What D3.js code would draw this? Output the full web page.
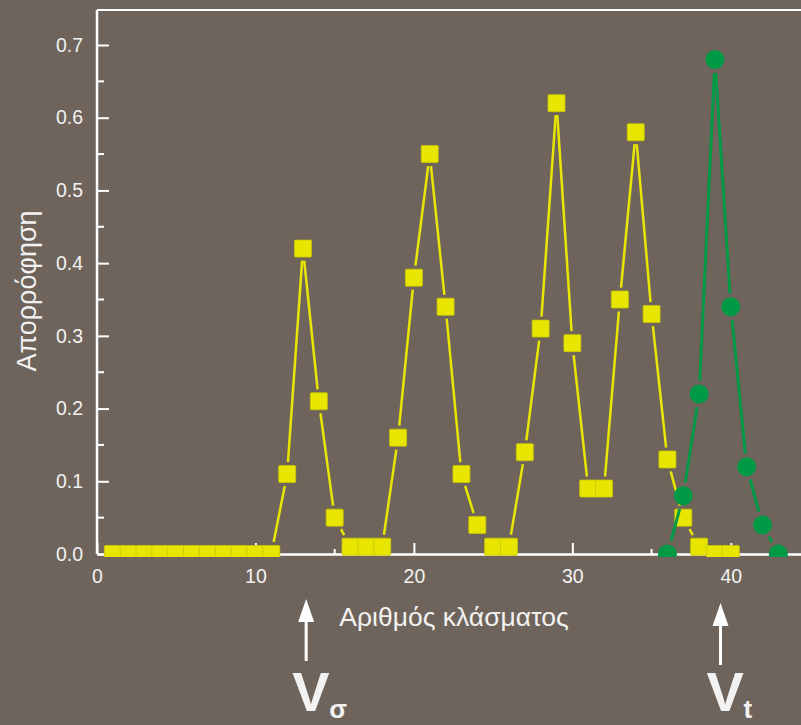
<!DOCTYPE html>
<html>
<head>
<meta charset="utf-8">
<script src="https://cdn.jsdelivr.net/npm/d3@7"></script>
<style>
  body { margin: 0; background: #6f645b; }
  svg { display: block; }
  text { font-family: "Liberation Sans", Arial, sans-serif; fill: #f2f2f2; }
</style>
</head>
<body>
<div id="chart-area"></div>
<script>
// fractions with absorbance, yellow series (squares)
var yellowX = [1, 2, 3, 4, 5, 6, 7, 8, 9, 10, 11, 12, 13, 14, 15, 16, 17, 18, 19, 20,
    21, 22, 23, 24, 25, 26, 27, 28, 29, 30, 31, 32, 33, 34, 35, 36, 37, 38, 39, 40];
var yellowY = [0, 0, 0, 0, 0, 0, 0, 0, 0, 0, 0, 0.11, 0.42, 0.21, 0.05, 0.01, 0.01, 0.01, 0.16, 0.38,
    0.55, 0.34, 0.11, 0.04, 0.01, 0.01, 0.14, 0.31, 0.62, 0.29, 0.09, 0.09, 0.35, 0.58, 0.33, 0.13, 0.05, 0.01, 0, 0];

// green series (circles)
var greenX = [36, 37, 38, 39, 40, 41, 42, 43];
var greenY = [0, 0.08, 0.22, 0.68, 0.34, 0.12, 0.04, 0];

var xTicks = [0, 10, 20, 30, 40];
var xMinor = [5, 15, 25, 35];
var yTicks = [0, 0.1, 0.2, 0.3, 0.4, 0.5, 0.6, 0.7];
var yMinor = [0.05, 0.15, 0.25, 0.35, 0.45, 0.55, 0.65];

var markers = [{ x: 13.2, label: 'σ' }, { x: 39.35, label: 't' }];

var W = 801, H = 725;
var svg = d3.select('#chart-area')
    .append('svg')
    .attr('width', W)
    .attr('height', H);

var x = d3.scaleLinear().domain([0, 44.43]).range([97, 801]);
var y = d3.scaleLinear().domain([0, 0.7]).range([554, 45]);
var yTop = 10;

// frame top line
svg.append('line')
    .attr('x1', 97).attr('x2', W)
    .attr('y1', yTop).attr('y2', yTop)
    .attr('stroke', '#fff').attr('stroke-width', 2);

// y axis
var yAxis = d3.axisLeft(y).tickValues(yTicks).tickFormat(d3.format('.1f'))
    .tickSize(-12).tickSizeOuter(0).tickPadding(14);
var gy = svg.append('g').attr('transform', 'translate(97,0)').call(yAxis);
gy.select('.domain').attr('d', 'M0,' + y(0) + 'V' + yTop);
gy.selectAll('.tick text').style('font-size', '19.5px');
gy.selectAll('.tick line').attr('stroke-width', 2);
gy.selectAll('.minor').data(yMinor).enter().append('line')
    .attr('x1', 0).attr('x2', 7)
    .attr('y1', d => y(d)).attr('y2', d => y(d))
    .attr('stroke', '#fff').attr('stroke-width', 2);

// x axis
var xAxis = d3.axisBottom(x).tickValues(xTicks)
    .tickSize(-11).tickSizeOuter(0).tickPadding(15);
var gx = svg.append('g').attr('transform', 'translate(0,' + y(0) + ')').call(xAxis);
gx.selectAll('.tick text').style('font-size', '19.5px');
gx.selectAll('.tick line').attr('stroke-width', 2);
gx.selectAll('.minor').data(xMinor).enter().append('line')
    .attr('x1', d => x(d)).attr('x2', d => x(d))
    .attr('y1', 0).attr('y2', -5)
    .attr('stroke', '#fff').attr('stroke-width', 2);
svg.selectAll('.domain').attr('stroke', '#fff').attr('stroke-width', 2.5);
svg.selectAll('.tick line').attr('stroke', '#fff');
svg.selectAll('.tick text').attr('fill', '#f2f2f2');

// clip just under the x axis
svg.append('clipPath').attr('id', 'plot')
    .append('rect').attr('x', 97).attr('y', 0).attr('width', W - 97).attr('height', y(0) + 3);

var plot = svg.append('g').attr('clip-path', 'url(#plot)');

// broken line segments between symbols
function segments(xs, ys, edge) {
    var out = [];
    for (var i = 0; i < xs.length - 1; i++) {
        var x1 = x(xs[i]), y1 = y(ys[i]), x2 = x(xs[i + 1]), y2 = y(ys[i + 1]);
        var dx = x2 - x1, dy = y2 - y1, d = Math.sqrt(dx * dx + dy * dy);
        var ux = dx / d, uy = dy / d;
        var g = edge(ux, uy);
        if (d > 2 * g + 2) {
            out.push([x1 + ux * g, y1 + uy * g, x2 - ux * g, y2 - uy * g]);
        }
    }
    return out;
}

var sq = 17;
var ySeg = segments(yellowX, yellowY, function (ux, uy) {
    return (sq / 2) / Math.max(Math.abs(ux), Math.abs(uy)) + 3.5;
});
plot.selectAll('.yseg').data(ySeg).enter().append('line')
    .attr('x1', d => d[0]).attr('y1', d => d[1])
    .attr('x2', d => d[2]).attr('y2', d => d[3])
    .attr('stroke', '#e8e600').attr('stroke-width', 2.5);

plot.selectAll('.ysq').data(yellowX).enter().append('rect')
    .attr('x', d => x(d) - sq / 2)
    .attr('y', (d, i) => y(yellowY[i]) - sq / 2)
    .attr('width', sq).attr('height', sq)
    .attr('rx', 1)
    .attr('fill', '#e8e600')
    .attr('stroke', '#c8c600').attr('stroke-width', 0.8);

var r = 9.5;
var gSeg = segments(greenX, greenY, function () { return r + 4; });
plot.selectAll('.gseg').data(gSeg).enter().append('line')
    .attr('x1', d => d[0]).attr('y1', d => d[1])
    .attr('x2', d => d[2]).attr('y2', d => d[3])
    .attr('stroke', '#009a46').attr('stroke-width', 3);

plot.selectAll('.gc').data(greenX).enter().append('circle')
    .attr('cx', d => x(d))
    .attr('cy', (d, i) => y(greenY[i]))
    .attr('r', r)
    .attr('fill', '#009a46');

// axis titles
svg.append('text')
    .attr('x', 454).attr('y', 626)
    .attr('text-anchor', 'middle')
    .style('font-size', '26.5px')
    .text('Αριθμός κλάσματος');

svg.append('text')
    .attr('transform', 'translate(36,291) rotate(-90)')
    .attr('text-anchor', 'middle')
    .style('font-size', '27px')
    .text('Απορρόφηση');

// V arrows
markers.forEach(function (m, i) {
    var cx = x(m.x);
    var top = i === 0 ? 599 : 603;
    svg.append('line')
        .attr('x1', cx).attr('x2', cx)
        .attr('y1', top + 18).attr('y2', top + 62)
        .attr('stroke', '#fff').attr('stroke-width', 3);
    svg.append('path')
        .attr('d', 'M' + cx + ',' + top + 'L' + (cx + 8) + ',' + (top + 23) + 'L' + (cx - 8) + ',' + (top + 23) + 'Z')
        .attr('fill', '#fff');
    svg.append('text')
        .attr('x', cx - 14).attr('y', 711)
        .style('font-size', '56px')
        .style('font-weight', 'bold')
        .attr('fill', '#fff')
        .text('V');
    svg.append('text')
        .attr('x', cx + 23).attr('y', 718)
        .style('font-size', '26px')
        .style('font-weight', 'bold')
        .attr('fill', '#fff')
        .text(m.label);
});
</script>
</body>
</html>
